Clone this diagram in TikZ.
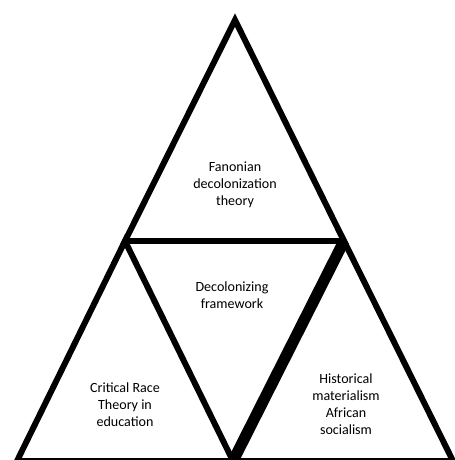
\documentclass[tikz,border=0pt]{standalone}
\usepackage{fontspec}
\setmainfont{Carlito}
\usetikzlibrary{positioning}

\begin{document}
\begin{tikzpicture}[x=0.02cm, y=-0.02cm,
    edge/.style={line width=3.4pt, line join=miter},
    thickedge/.style={line width=6.4pt},
    label/.style={align=center, font=\fontsize{8}{9.6}\selectfont, inner sep=0pt}]
            \useasboundingbox (0,0) rectangle (455,460);
            % Define corners of the triangles
            \coordinate (apex) at (235, 20);
            \coordinate (mid-left) at (125, 241);
            \coordinate (mid-right) at (344, 241);
            \coordinate (base-left) at (17, 461);
            \coordinate (base-mid) at (233, 461);
            \coordinate (base-right) at (453, 461);
            % Draw the triangles
            \draw[edge] (apex) -- (mid-left) -- (mid-right) -- cycle;
            \draw[edge] (mid-left) -- (base-left) -- (base-mid) -- cycle;
            \draw[edge] (mid-right) -- (base-mid) -- (base-right) -- cycle;
            \draw[thickedge] (mid-right) -- (base-mid);
            % Labels
            \node[label] (fanon) at (235, 185) {Fanonian\\decolonization\\theory};
            \node[label] (framework) at (232, 295) {Decolonizing\\framework};
            \node[label] (crt) at (125, 405) {Critical Race\\Theory in\\education};
            \node[label] (histmat) at (346, 404) {Historical\\materialism\\African\\socialism};
        \end{tikzpicture}
\end{document}
